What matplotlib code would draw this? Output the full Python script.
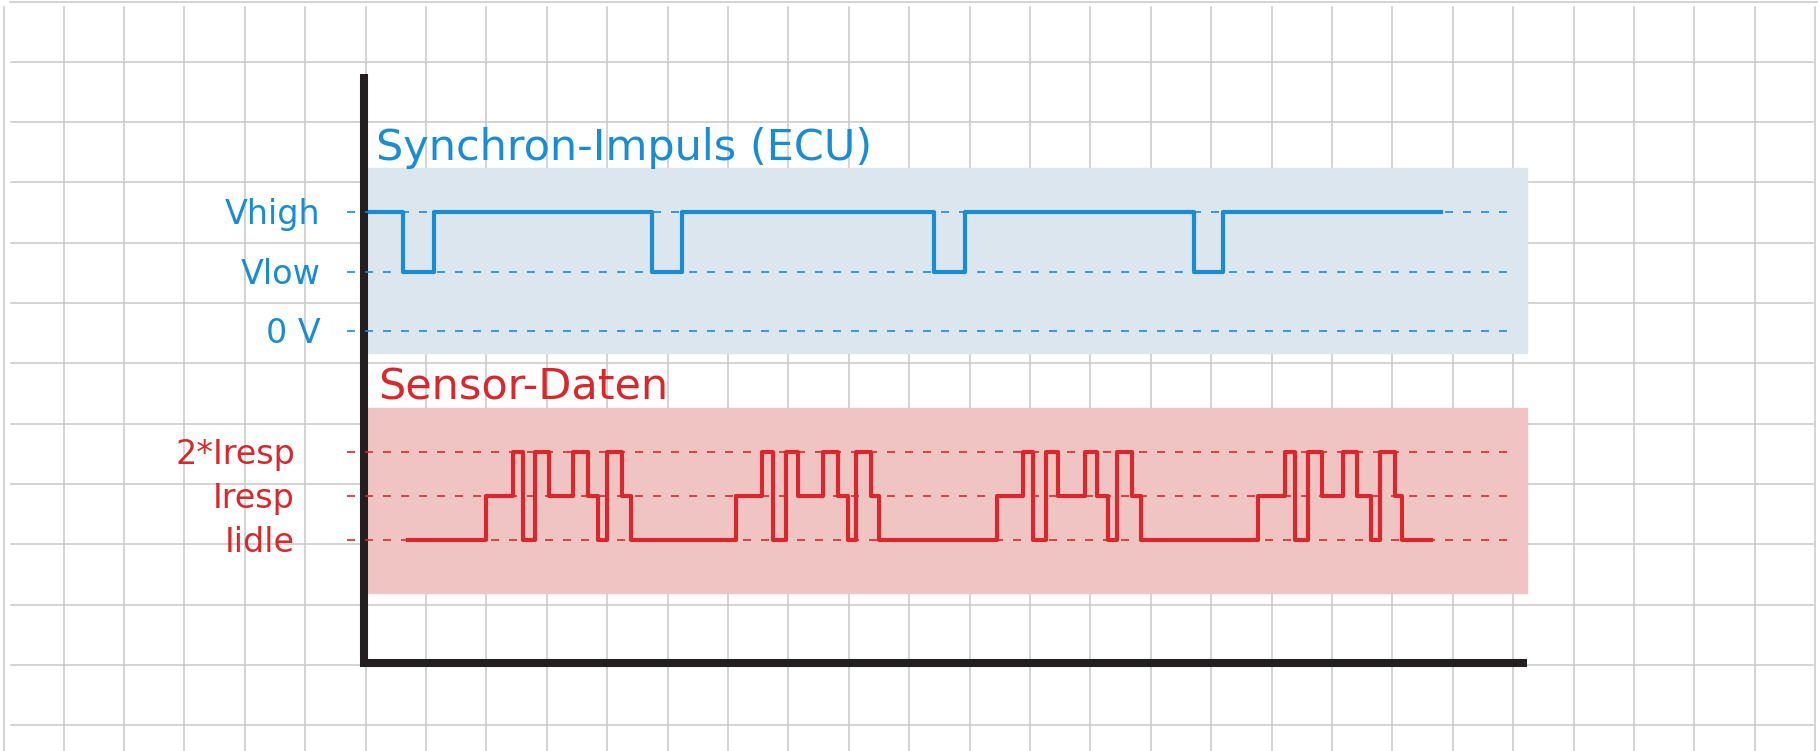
import matplotlib.pyplot as plt
import numpy as np

W, H = 1818, 751

# signal levels (index = level value)
sync_labels = ["0 V", "Vlow", "Vhigh"]
sensor_labels = ["Iidle", "Iresp", "2*Iresp"]

# Synchron-Impuls (ECU): switching times (grid units) and level after the switch
sync_t = [0.0, 0.58, 1.09, 4.70, 5.20, 9.37, 9.88, 13.68, 14.16, 17.76]
sync_lvl = [2, 1, 2, 1, 2, 1, 2, 1, 2, 2]

# Sensor-Daten: 0 = Iidle, 1 = Iresp, 2 = 2*Iresp
sensor_t = [0.66,
            1.95, 2.40, 2.57, 2.76, 2.99, 3.39, 3.64, 3.81, 3.96, 4.21, 4.36,
            6.09, 6.52, 6.71, 6.92, 7.12, 7.53, 7.78, 7.95, 8.08, 8.33, 8.46,
            10.41, 10.84, 11.01, 11.23, 11.42, 11.87, 12.07, 12.25, 12.40, 12.65, 12.80,
            14.74, 15.18, 15.35, 15.56, 15.79, 16.14, 16.37, 16.61, 16.75, 17.00, 17.12,
            17.60]
sensor_lvl = [0,
              1, 2, 0, 2, 1, 2, 1, 0, 2, 1, 0,
              1, 2, 0, 2, 1, 2, 1, 0, 2, 1, 0,
              1, 2, 0, 2, 1, 2, 1, 0, 2, 1, 0,
              1, 2, 0, 2, 1, 2, 1, 0, 2, 1, 0,
              0]

BLUE = "#1a8cd2"
RED = "#d9282b"
FONT = "DejaVu Sans"


def px_rect(x0, y0, x1, y1):
    return [x0 / W, 1 - y1 / H, (x1 - x0) / W, (y1 - y0) / H]


fig = plt.figure(figsize=(W / 100, H / 100), dpi=100)

# background: squared paper, panels, axes lines, titles (pixel coordinates)
bg = fig.add_axes([0, 0, 1, 1])
bg.set_xlim(0, W)
bg.set_ylim(H, 0)
bg.axis("off")

for x in 63.5 + 60.4 * np.arange(30):
    bg.plot([x, x], [7, H], color="#c8c8c8", lw=1.1, zorder=0)
for y in 61.5 + 60.35 * np.arange(12):
    bg.plot([11, 1813], [y, y], color="#c8c8c8", lw=1.1, zorder=0)
bg.plot([10, W], [2, 2], color="#c8c8c8", lw=1.1, zorder=0)
bg.plot([3.5, 3.5], [7, H], color="#c8c8c8", lw=1.1, zorder=0)

bg.add_patch(plt.Rectangle((368, 168), 1527 - 368, 353 - 168, color="#dbe6ee", zorder=1))
bg.add_patch(plt.Rectangle((368, 408), 1527 - 368, 593 - 408, color="#f1c4c4", zorder=1))

bg.plot([364, 364], [74, 667], color="#231f20", lw=5.8, solid_capstyle="butt", zorder=3)
bg.plot([360, 1527], [663, 663], color="#231f20", lw=5.8, solid_capstyle="butt", zorder=3)

bg.text(376, 160, "Synchron-Impuls (ECU)", color=BLUE, fontsize=31, family=FONT,
        ha="left", va="baseline")
bg.text(378, 400, "Sensor-Daten", color=RED, fontsize=31, family=FONT,
        ha="left", va="baseline")

# signal panels (time in grid units, level index on y)
ax_sync = fig.add_axes(px_rect(368, 168, 1527, 353))
ax_sync.set_xlim(0, 19.19)
ax_sync.set_ylim(-0.37, 2.74)

ax_sens = fig.add_axes(px_rect(368, 408, 1527, 593))
ax_sens.set_xlim(0, 19.19)
ax_sens.set_ylim(-1.20, 3.0)

for ax, labels, color, lab_x in [(ax_sync, sync_labels, BLUE, -0.79),
                                 (ax_sens, sensor_labels, RED, -1.21)]:
    ax.patch.set_alpha(0)
    ax.axis("off")
    for lvl, lab in enumerate(labels):
        ax.plot([-0.35, 18.87], [lvl, lvl], color=color, lw=1.2, dashes=(4.8, 6),
                clip_on=False)
        ax.annotate(lab, (lab_x, lvl), xytext=(0, -2), textcoords="offset points",
                    color=color, fontsize=24, family=FONT,
                    ha="right", va="center", annotation_clip=False)

ax_sync.plot(sync_t, sync_lvl, drawstyle="steps-post", color=BLUE, lw=3)
ax_sens.plot(sensor_t, sensor_lvl, drawstyle="steps-post", color=RED, lw=3)

fig.savefig("out.png", dpi=100)
